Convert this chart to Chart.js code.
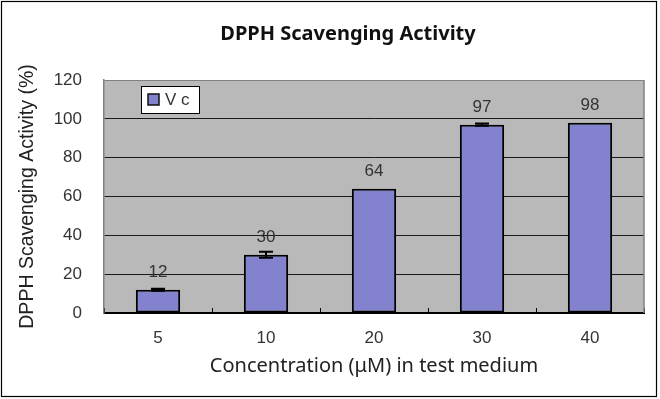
<!DOCTYPE html>
<html>
<head>
<meta charset="utf-8">
<script src="https://cdn.jsdelivr.net/npm/chart.js@4.4.1/dist/chart.umd.min.js"></script>
<style>
  html, body { margin: 0; padding: 0; background: #fff; }
  #wrap { width: 660px; height: 399px; }
</style>
</head>
<body>
<div id="wrap"><canvas id="chart" width="660" height="399"></canvas></div>
<script>
// values
const concentrations = ["5", "10", "20", "30", "40"];
const vcActivity = [12, 30, 64, 97, 98];
const vcError = [0.5, 1.5, 0, 0.6, 0];
const yTicks = [0, 20, 40, 60, 80, 100, 120];

const barColor = "#8282cf";
const plotGray = "#b9b9b9";

// grey plot area, outer frame, right border of plot area
const framePlugin = {
  id: "frame",
  beforeDraw(chart) {
    const { ctx, chartArea: a } = chart;
    ctx.save();
    ctx.fillStyle = "#fff";
    ctx.fillRect(0, 0, chart.width, chart.height);
    ctx.fillStyle = plotGray;
    ctx.fillRect(a.left, a.top, a.right - a.left, a.bottom - a.top);
    ctx.restore();
  },
  beforeDatasetsDraw(chart) {
    const { ctx, chartArea: a } = chart;
    ctx.save();
    ctx.strokeStyle = "#808080";
    ctx.lineWidth = 1.5;
    ctx.beginPath();
    ctx.moveTo(a.right, a.top);
    ctx.lineTo(a.right, a.bottom);
    ctx.stroke();
    ctx.restore();
  },
  afterDraw(chart) {
    const ctx = chart.ctx;
    ctx.save();
    ctx.strokeStyle = "#000";
    ctx.lineWidth = 1.2;
    ctx.strokeRect(1.5, 1.5, 655, 395);
    ctx.restore();
  },
};

// error bars and value labels
const barExtras = {
  id: "barExtras",
  afterDatasetsDraw(chart) {
    const { ctx, scales } = chart;
    const meta = chart.getDatasetMeta(0);
    ctx.save();
    meta.data.forEach((bar, i) => {
      const v = vcActivity[i];
      const e = vcError[i];
      if (e > 0) {
        const yHi = scales.y.getPixelForValue(v + e);
        const yLo = scales.y.getPixelForValue(v - e);
        ctx.strokeStyle = "#000";
        ctx.lineWidth = 2;
        ctx.beginPath();
        ctx.moveTo(bar.x, yHi);
        ctx.lineTo(bar.x, yLo);
        ctx.moveTo(bar.x - 7, yHi);
        ctx.lineTo(bar.x + 7, yHi);
        ctx.moveTo(bar.x - 7, yLo);
        ctx.lineTo(bar.x + 7, yLo);
        ctx.stroke();
      }
      ctx.fillStyle = "#333";
      ctx.font = "17px 'Liberation Sans', Arial, sans-serif";
      ctx.textAlign = "center";
      ctx.textBaseline = "middle";
      ctx.fillText(String(v), bar.x, scales.y.getPixelForValue(v) - 17);
    });
    ctx.restore();
  },
};

// legend box inside the plot area
const legendBox = {
  id: "legendBox",
  afterDatasetsDraw(chart) {
    const { ctx, chartArea: a } = chart;
    const x = a.left + 37, y = a.top + 6;
    ctx.save();
    ctx.fillStyle = "#fff";
    ctx.fillRect(x, y, 58, 27);
    ctx.strokeStyle = "#000";
    ctx.lineWidth = 1;
    ctx.strokeRect(x + 0.5, y + 0.5, 58, 27);
    ctx.fillStyle = barColor;
    ctx.fillRect(x + 7, y + 8, 11, 11);
    ctx.strokeStyle = "#111";
    ctx.lineWidth = 1.5;
    ctx.strokeRect(x + 7, y + 8, 11, 11);
    ctx.fillStyle = "#333";
    ctx.font = "17px 'Liberation Sans', Arial, sans-serif";
    ctx.textBaseline = "middle";
    ctx.fillText(chart.data.datasets[0].label, x + 24, y + 14.5);
    ctx.restore();
  },
};

new Chart(document.getElementById("chart"), {
  type: "bar",
  data: {
    labels: concentrations,
    datasets: [
      {
        label: "V c",
        data: vcActivity,
        backgroundColor: barColor,
        borderColor: "#000",
        borderWidth: 2,
        borderSkipped: false,
        categoryPercentage: 1,
        barPercentage: 0.41,
      },
    ],
  },
  options: {
    responsive: false,
    animation: false,
    events: [],
    layout: { padding: { left: 52, right: 16, top: 0, bottom: 0 } },
    plugins: {
      legend: { display: false },
      tooltip: { enabled: false },
      title: {
        display: true,
        text: "DPPH Scavenging Activity",
        color: "#111",
        font: { family: "'Noto Sans', sans-serif", size: 20, weight: "bold" },
        padding: { top: 22.5, bottom: 33.5 },
      },
    },
    scales: {
      x: {
        grid: {
          drawOnChartArea: false,
          drawTicks: true,
          tickLength: -5,
          color: "#000",
          lineWidth: 1,
        },
        border: { color: "#000", width: 2 },
        ticks: {
          color: "#333",
          padding: 20,
          font: { family: "'Liberation Sans', Arial, sans-serif", size: 17 },
        },
        title: {
          display: true,
          text: "Concentration (μM) in test medium",
          color: "#222",
          font: { family: "'Noto Sans', sans-serif", size: 20 },
          padding: { top: 0, bottom: 21 },
        },
        afterFit(scale) {
          scale.height = 86;
        },
      },
      y: {
        min: 0,
        max: 120,
        afterBuildTicks(scale) {
          scale.ticks = yTicks.map((v) => ({ value: v }));
        },
        grid: {
          drawTicks: false,
          color: (c) => (c.tick && c.tick.value === 120 ? "#808080" : "#1a1a1a"),
          lineWidth: 1,
        },
        border: { color: "#808080", width: 1.5 },
        ticks: {
          color: "#333",
          padding: 22,
          font: { family: "'Liberation Sans', Arial, sans-serif", size: 17 },
        },
        title: {
          display: true,
          text: "DPPH Scavenging Activity (%)",
          color: "#222",
          font: { family: "'Liberation Sans', Arial, sans-serif", size: 19.5 },
          padding: { top: -35.7, bottom: 0 },
        },
        afterFit(scale) {
          scale.width = 52;
        },
      },
    },
  },
  plugins: [framePlugin, barExtras, legendBox],
});
</script>
</body>
</html>
